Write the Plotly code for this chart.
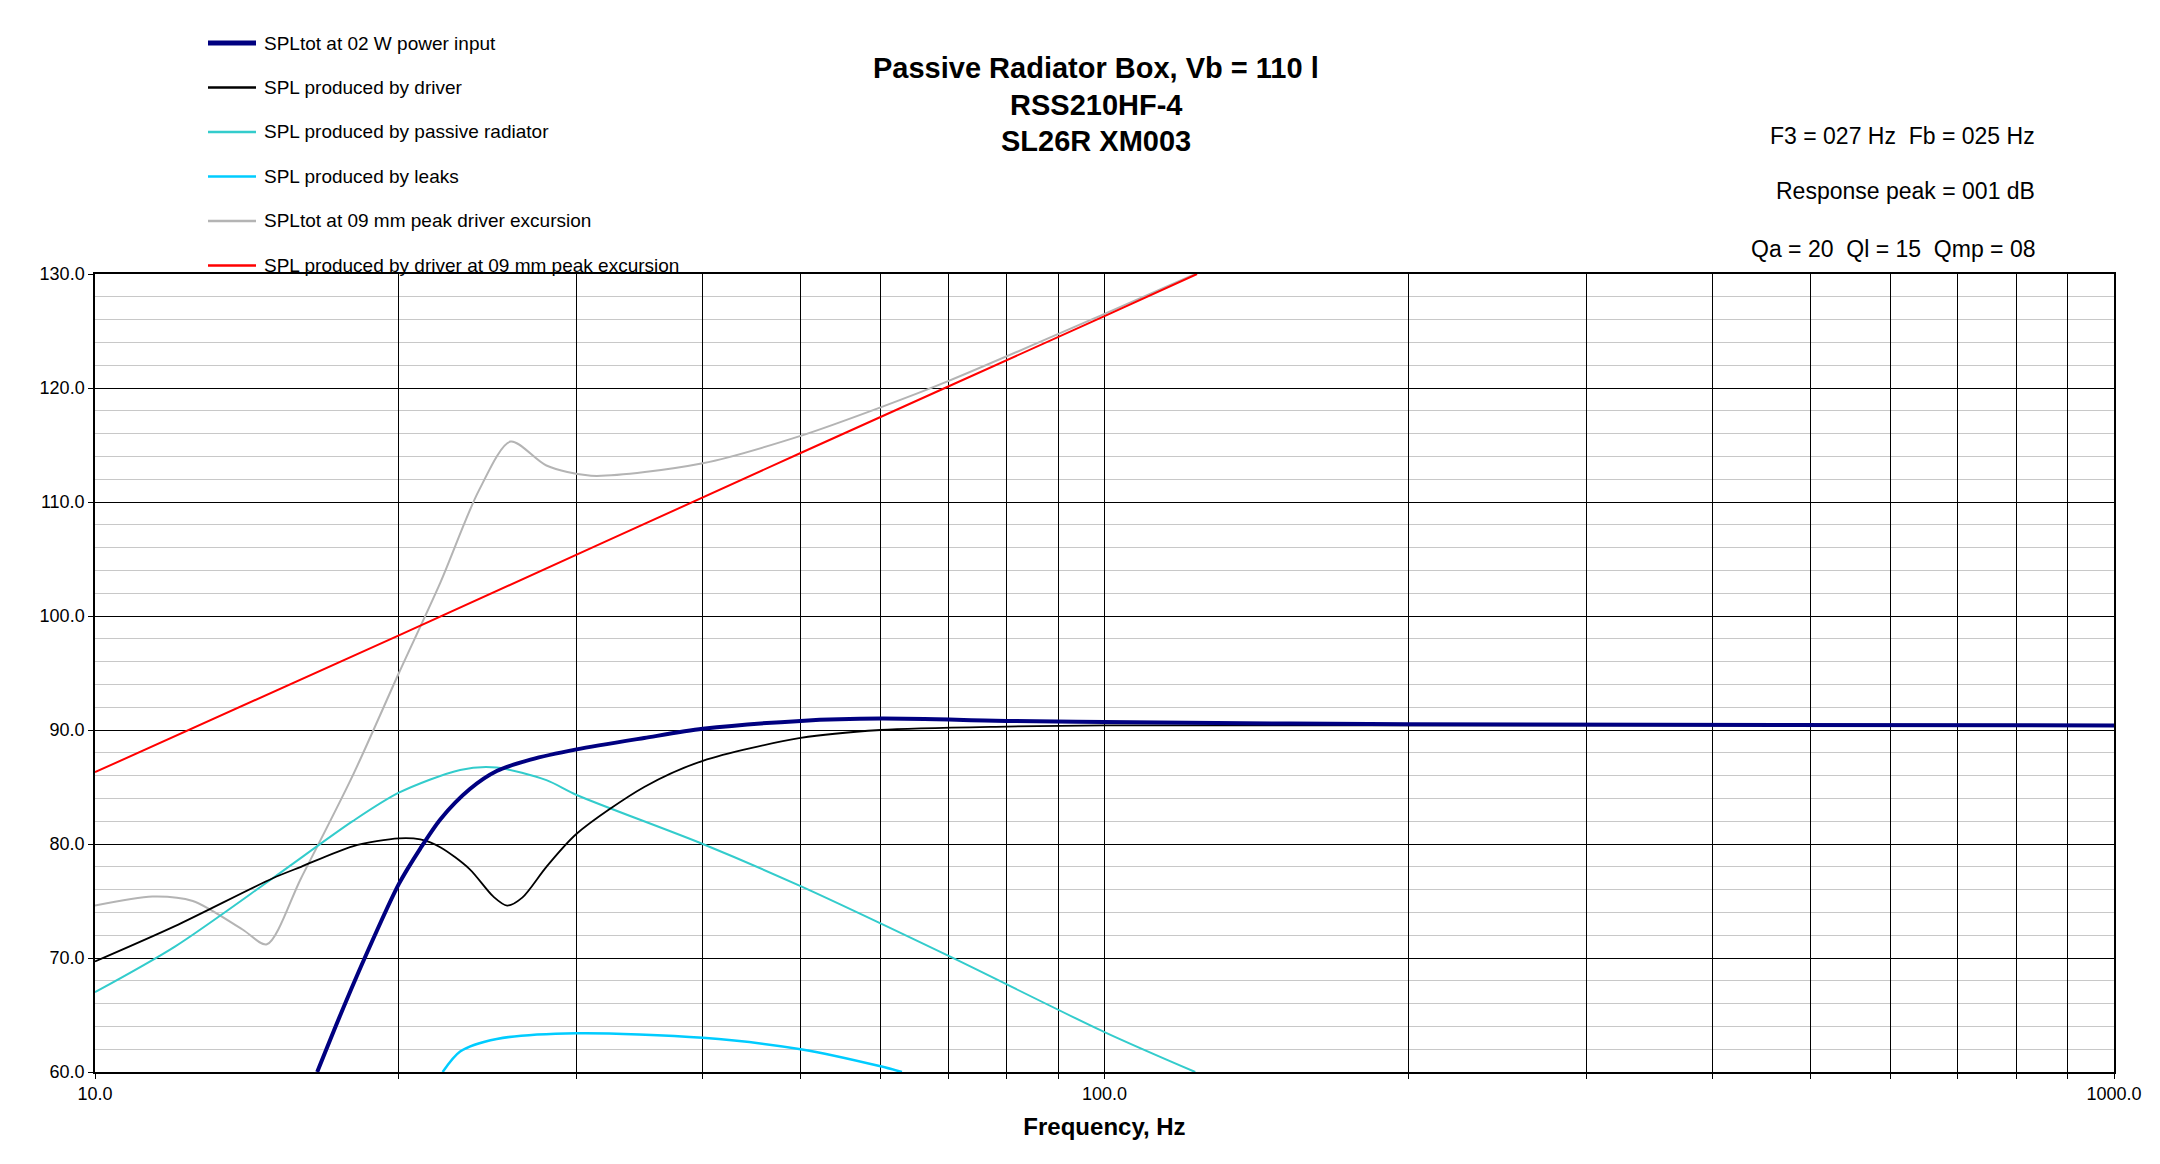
import plotly.graph_objects as go

# SPL curves (frequency in Hz, level in dB)
f_tot = [16.6, 17.5, 18.5, 20, 21, 22, 23.5, 25, 27, 30, 35, 40, 50, 60, 80, 100, 200, 1000]
spl_tot = [60, 65, 70, 76.5, 79.6, 82.2, 84.8, 86.4, 87.4, 88.3, 89.3, 90.1, 90.8, 91.0, 90.8, 90.7, 90.5, 90.4]

f_drv = [10, 12, 15, 16, 18, 20, 21, 22, 23.5, 24.8, 25.6, 26.5, 28, 30, 35, 40, 50, 60, 80, 100, 1000]
spl_drv = [69.7, 72.8, 77, 78, 79.8, 80.5, 80.4, 79.7, 77.8, 75.4, 74.6, 75.3, 78, 80.9, 85, 87.3, 89.3, 90, 90.3, 90.4, 90.4]

f_pr = [10, 12, 15, 18, 20, 23, 25, 28, 30, 40, 50, 70, 100, 123]
spl_pr = [67, 71, 77, 82, 84.5, 86.5, 86.7, 85.6, 84.3, 80, 76.3, 70.2, 63.5, 60]

f_leak = [22.1, 23, 25, 30, 40, 50, 60, 63]
spl_leak = [60, 61.8, 62.9, 63.4, 63, 62, 60.5, 60]

f_exc = [10, 11.4, 12.5, 14, 14.8, 16, 18, 20, 22, 24, 25.8, 28, 31, 40, 50, 60, 70, 100, 123]
spl_exc = [74.6, 75.4, 75.0, 72.5, 71.2, 77, 86, 95, 103, 111, 115.3, 113.2, 112.3, 113.4, 115.8, 118.3, 120.6, 126.5, 130]

f_red = [10, 20, 50, 100, 123.5]
spl_red = [86.3, 98.3, 114.3, 126.3, 130]

names = [
    "SPLtot at 02 W power input",
    "SPL produced by driver",
    "SPL produced by passive radiator",
    "SPL produced by leaks",
    "SPLtot at 09 mm peak driver excursion",
    "SPL produced by driver at 09 mm peak excursion",
]
colors = ["#000080", "#000000", "#33CCCC", "#00CCFF", "#B4B4B4", "#FF0000"]
widths = [4, 1.8, 2, 2.5, 2, 2]
series = [(f_tot, spl_tot), (f_drv, spl_drv), (f_pr, spl_pr),
          (f_leak, spl_leak), (f_exc, spl_exc), (f_red, spl_red)]

x_ticks = [10, 20, 30, 40, 50, 60, 70, 80, 90, 100, 200, 300, 400, 500, 600, 700, 800, 900, 1000]
x_text = ["10.0" if v == 10 else "100.0" if v == 100 else "1000.0" if v == 1000 else "" for v in x_ticks]

W, H = 2160, 1164
ml, mr, mt, mb = 87, 54, 266, 100
FONT = "Liberation Sans, Arial"


def px(x, y):
    # absolute pixel -> paper coords
    return (x - ml) / (W - ml - mr), (H - mb - y) / (H - mt - mb)


fig = go.Figure()
# draw back to front so the navy total sits on top
order = [4, 5, 2, 3, 1, 0]
for i in order:
    fx, fy = series[i]
    fig.add_trace(go.Scatter(x=fx, y=fy, mode="lines", line=dict(color=colors[i], width=widths[i], shape="spline", smoothing=0.8),
                             name=names[i], showlegend=False, cliponaxis=True))

# hand-made legend in the top-left corner
for k, (n, c) in enumerate(zip(names, colors)):
    yy = 35 + k * 44.5
    x0, y0 = px(200, yy)
    x1, _ = px(248, yy)
    fig.add_shape(type="line", xref="paper", yref="paper", x0=x0, x1=x1, y0=y0, y1=y0,
                  line=dict(color=c, width=5 if k == 0 else 2.5))
    tx, _ = px(254, yy)
    fig.add_annotation(xref="paper", yref="paper", x=tx, y=y0, text=n, showarrow=False,
                       xanchor="left", yanchor="middle", font=dict(size=19, color="black", family=FONT))

for t, yy in zip(["Passive Radiator Box, Vb = 110 l", "RSS210HF-4", "SL26R XM003"], [60, 97, 133]):
    ax, ay = px(1088, yy)
    fig.add_annotation(xref="paper", yref="paper", x=ax, y=ay, text="<b>" + t + "</b>", showarrow=False,
                       xanchor="center", yanchor="middle", font=dict(size=29, color="black", family=FONT))

for t, yy in zip(["F3 = 027 Hz  Fb = 025 Hz", "Response peak = 001 dB", "Qa = 20  Ql = 15  Qmp = 08"], [128, 183, 241]):
    ax, ay = px(2029, yy)
    fig.add_annotation(xref="paper", yref="paper", x=ax, y=ay, text=t, showarrow=False,
                       xanchor="right", yanchor="middle", font=dict(size=23, color="black", family=FONT))

fig.update_layout(
    width=W, height=H,
    margin=dict(l=ml, r=mr, t=mt, b=mb),
    paper_bgcolor="white", plot_bgcolor="white",
    font=dict(family=FONT, color="black", size=18),
)
fig.update_xaxes(type="log", range=[1, 3], tickvals=x_ticks, ticktext=x_text,
                 showgrid=True, gridcolor="black", gridwidth=1,
                 showline=True, linecolor="black", linewidth=1.5, mirror=True,
                 ticks="outside", ticklen=5, tickcolor="black", tickfont=dict(size=18),
                 title=dict(text="<b>Frequency, Hz</b>", font=dict(size=24), standoff=15), zeroline=False)
fig.update_yaxes(range=[60, 130], dtick=10, tickformat=".1f",
                 showgrid=True, gridcolor="black", gridwidth=1,
                 minor=dict(dtick=2, showgrid=True, gridcolor="#C8C8C8", gridwidth=1),
                 showline=True, linecolor="black", linewidth=1.5, mirror=True,
                 ticks="outside", ticklen=5, tickcolor="black", tickfont=dict(size=18), zeroline=False)

fig.write_html("out.html")
